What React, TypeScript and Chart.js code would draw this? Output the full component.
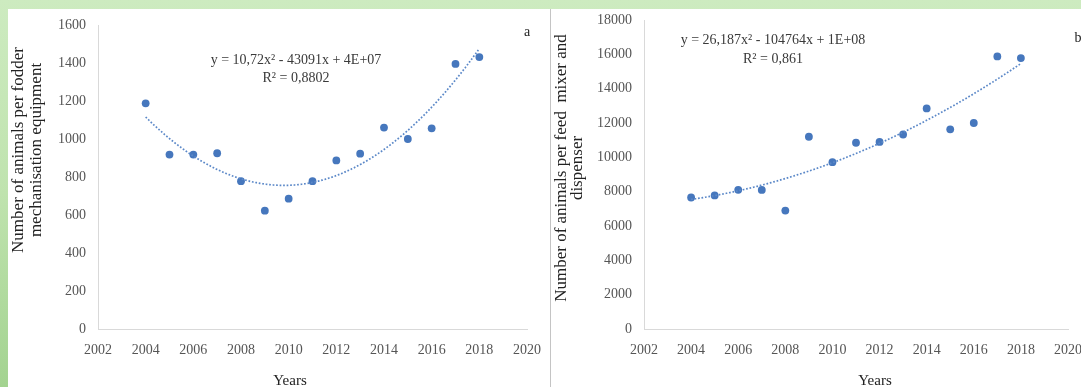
import React, { useEffect, useRef } from 'react';
import { Chart, registerables } from 'chart.js';

Chart.register(...registerables);

// ---------- data ----------
const YEARS = [2004, 2005, 2006, 2007, 2008, 2009, 2010, 2011, 2012, 2013, 2014, 2015, 2016, 2017, 2018];
const FODDER_EQUIPMENT = [1188, 918, 918, 925, 778, 623, 686, 778, 887, 923, 1060, 1000, 1056, 1395, 1431];
const FEED_MIXER = [7660, 7780, 8110, 8100, 6900, 11200, 9720, 10850, 10900, 11330, 12850, 11630, 12000, 15880, 15780];

const X_RANGE = [2002, 2020];
const X_STEP = 2;
const Y_RANGE_A = [0, 1600];
const Y_STEP_A = 200;
const Y_RANGE_B = [0, 18000];
const Y_STEP_B = 2000;

const EQUATION_A = ['y = 10,72x² - 43091x + 4E+07', 'R² = 0,8802'];
const EQUATION_B = ['y = 26,187x² - 104764x + 1E+08', 'R² = 0,861'];
const Y_TITLE_A = ['Number of animals per fodder', 'mechanisation equipment'];
const Y_TITLE_B = ['Number of animals per feed  mixer and', 'dispenser'];
const X_TITLE = 'Years';

// ---------- styles ----------
const SERIF = "'Liberation Serif', 'Times New Roman', serif";
const POINT_COLOR = '#4677bd';
const TREND_COLOR = '#5b88c8';
const TICK_COLOR = '#555555';
const TEXT_COLOR = '#3a3a3a';
const TITLE_COLOR = '#222222';
const AXIS_COLOR = '#d9d9d9';

function quadFit(xs: number[], ys: number[]) {
  const n = xs.length;
  const x0 = xs.reduce((a, b) => a + b, 0) / n;
  let s1 = 0, s2 = 0, s3 = 0, s4 = 0, t0 = 0, t1 = 0, t2 = 0;
  for (let i = 0; i < n; i++) {
    const u = xs[i] - x0;
    s1 += u; s2 += u * u; s3 += u * u * u; s4 += u * u * u * u;
    t0 += ys[i]; t1 += ys[i] * u; t2 += ys[i] * u * u;
  }
  const M = [[n, s1, s2], [s1, s2, s3], [s2, s3, s4]];
  const T = [t0, t1, t2];
  const det = (m: number[][]) =>
    m[0][0] * (m[1][1] * m[2][2] - m[1][2] * m[2][1]) -
    m[0][1] * (m[1][0] * m[2][2] - m[1][2] * m[2][0]) +
    m[0][2] * (m[1][0] * m[2][1] - m[1][1] * m[2][0]);
  const D = det(M);
  const coef = [0, 1, 2].map((k) => {
    const mk = M.map((row, r) => row.map((v, c) => (c === k ? T[r] : v)));
    return det(mk) / D;
  });
  return (x: number) => {
    const u = x - x0;
    return coef[0] + coef[1] * u + coef[2] * u * u;
  };
}

type TextSpec = {
  equation: string[];
  eqX: number; eqY: number; eqGap: number;
  letter: string; letterX: number; letterY: number;
  yTitle: string[]; yTitleX: number[]; yTitleY: number;
  xTitleX: number; xTitleY: number;
};

function trendPlugin(xs: number[], ys: number[]) {
  const f = quadFit(xs, ys);
  return {
    id: 'trend',
    afterDatasetsDraw(chart: any) {
      const { ctx, scales } = chart;
      const sx = scales.x, sy = scales.y;
      ctx.save();
      ctx.strokeStyle = TREND_COLOR;
      ctx.lineWidth = 1.7;
      ctx.setLineDash([1.7, 1.8]);
      ctx.beginPath();
      const a = xs[0], b = xs[xs.length - 1];
      for (let x = a; x <= b + 1e-9; x += 0.05) {
        const px = sx.getPixelForValue(x), py = sy.getPixelForValue(f(x));
        if (x === a) ctx.moveTo(px, py); else ctx.lineTo(px, py);
      }
      ctx.stroke();
      ctx.restore();
    },
  };
}

function textPlugin(spec: TextSpec) {
  return {
    id: 'texts',
    afterDraw(chart: any) {
      const ctx = chart.ctx as CanvasRenderingContext2D;
      ctx.save();
      ctx.textAlign = 'center';
      ctx.textBaseline = 'middle';
      ctx.fillStyle = TEXT_COLOR;
      ctx.font = `14px ${SERIF}`;
      spec.equation.forEach((line, i) => ctx.fillText(line, spec.eqX, spec.eqY + i * spec.eqGap));
      ctx.fillStyle = TITLE_COLOR;
      ctx.fillText(spec.letter, spec.letterX, spec.letterY);
      ctx.font = `15px ${SERIF}`;
      ctx.fillText(X_TITLE, spec.xTitleX, spec.xTitleY);
      ctx.font = `17px ${SERIF}`;
      spec.yTitle.forEach((line, i) => {
        ctx.save();
        ctx.translate(spec.yTitleX[i], spec.yTitleY);
        ctx.rotate(-Math.PI / 2);
        ctx.fillText(line, 0, 0);
        ctx.restore();
      });
      ctx.restore();
    },
  };
}

type PanelProps = {
  width: number; height: number;
  values: number[]; yRange: number[]; yStep: number;
  left: number; right: number; top: number; bottom: number;
  spec: TextSpec;
};

function ScatterPanel(p: PanelProps) {
  const ref = useRef<HTMLCanvasElement>(null);
  useEffect(() => {
    const tickFont = { family: SERIF, size: 14 };
    const chart = new Chart(ref.current as HTMLCanvasElement, {
      type: 'scatter',
      data: {
        datasets: [{
          data: YEARS.map((x, i) => ({ x, y: p.values[i] })),
          backgroundColor: POINT_COLOR,
          borderColor: POINT_COLOR,
          pointRadius: 3.9,
          pointHoverRadius: 3.9,
          borderWidth: 0,
        }],
      },
      options: {
        animation: false,
        responsive: false,
        events: [],
        layout: { padding: { left: 0, top: p.top, right: p.width - p.right, bottom: 0 } },
        plugins: { legend: { display: false }, tooltip: { enabled: false } },
        scales: {
          x: {
            type: 'linear',
            min: X_RANGE[0], max: X_RANGE[1],
            ticks: { stepSize: X_STEP, callback: (v: any) => String(v), color: TICK_COLOR, font: tickFont, padding: 13, maxRotation: 0, autoSkip: false },
            grid: { drawOnChartArea: false, drawTicks: false },
            border: { display: true, color: AXIS_COLOR, width: 1 },
            afterFit: (s: any) => { s.height = p.height - p.bottom; s.paddingLeft = 0; s.paddingRight = 0; },
          },
          y: {
            type: 'linear',
            min: p.yRange[0], max: p.yRange[1],
            ticks: { stepSize: p.yStep, callback: (v: any) => String(v), color: TICK_COLOR, font: tickFont, padding: 12 },
            grid: { drawOnChartArea: false, drawTicks: false },
            border: { display: true, color: AXIS_COLOR, width: 1 },
            afterFit: (s: any) => { s.width = p.left; s.paddingTop = 0; s.paddingBottom = 0; },
          },
        },
      } as any,
      plugins: [trendPlugin(YEARS, p.values), textPlugin(p.spec)],
    });
    return () => chart.destroy();
  }, []);
  return <canvas ref={ref} width={p.width} height={p.height} style={{ display: 'block', width: p.width, height: p.height }} />;
}

export default function App() {
  return (
    <div style={{ position: 'fixed', left: 0, top: 0, width: 1081, height: 387, overflow: 'hidden',
      background: 'linear-gradient(180deg, #cdebc0 0%, #bfe3ae 50%, #a3d390 100%)' }}>
      <div style={{ position: 'absolute', left: 8, top: 9, width: 542, height: 378, background: '#ffffff' }}>
        <ScatterPanel width={542} height={378} values={FODDER_EQUIPMENT} yRange={Y_RANGE_A} yStep={Y_STEP_A}
          left={90} right={519} top={16} bottom={320}
          spec={{ equation: EQUATION_A, eqX: 288, eqY: 51, eqGap: 18, letter: 'a', letterX: 519, letterY: 23,
            yTitle: Y_TITLE_A, yTitleX: [11, 29], yTitleY: 141, xTitleX: 282, xTitleY: 372 }} />
      </div>
      <div style={{ position: 'absolute', left: 550, top: 9, width: 1, height: 378, background: '#c4c4c4' }} />
      <div style={{ position: 'absolute', left: 551, top: 9, width: 530, height: 378, background: '#ffffff' }}>
        <ScatterPanel width={530} height={378} values={FEED_MIXER} yRange={Y_RANGE_B} yStep={Y_STEP_B}
          left={93} right={517} top={11} bottom={320}
          spec={{ equation: EQUATION_B, eqX: 222, eqY: 31, eqGap: 19, letter: 'b', letterX: 527, letterY: 29,
            yTitle: Y_TITLE_B, yTitleX: [11, 27], yTitleY: 159, xTitleX: 324, xTitleY: 372 }} />
      </div>
    </div>
  );
}
